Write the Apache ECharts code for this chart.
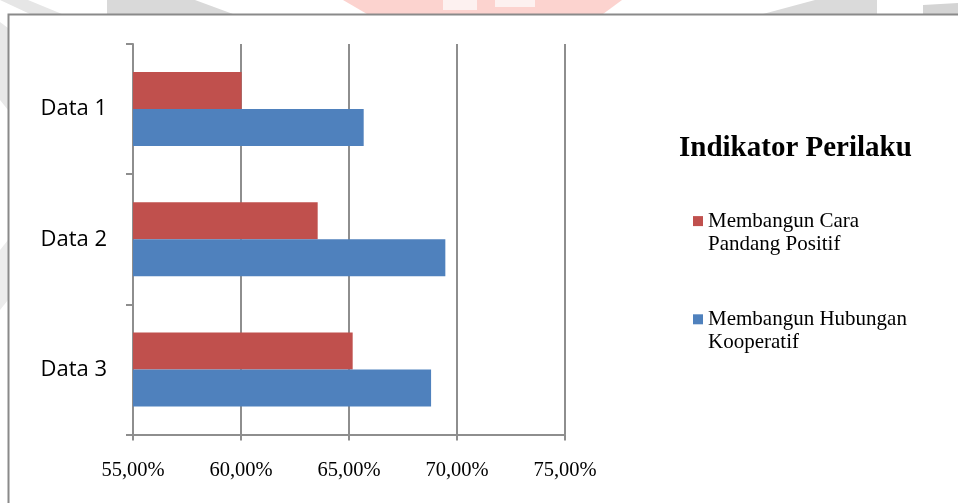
<!DOCTYPE html>
<html>
<head>
<meta charset="utf-8">
<script src="https://cdn.jsdelivr.net/npm/echarts@6/dist/echarts.min.js"></script>
<style>
  html, body { margin: 0; padding: 0; background: #fff; }
  #chart { width: 958px; height: 503px; }
</style>
</head>
<body>
<div id="chart"></div>
<script>
// Categories and series values (fractions of 1, shown as percent)
const categories = ['Data 1', 'Data 2', 'Data 3'];
const seriesNames = ['Membangun Cara Pandang Positif', 'Membangun Hubungan Kooperatif'];
const caraPandang = [0.6003, 0.6355, 0.6517];
const hubungan = [0.6568, 0.6946, 0.6880];
const xTicks = { min: 0.55, max: 0.75, interval: 0.05 };
const chartTitle = 'Indikator Perilaku';

const RED = '#C0504D';
const BLUE = '#4F81BD';
const GRID_GRAY = '#8e8e8e';

function pct(v) {
  return (v * 100).toFixed(2).replace('.', ',') + '%';
}

// Break a legend name after its second word; the leading empty line keeps
// the first text line level with the colour swatch
function wrapName(name) {
  const w = name.split(' ');
  return '\n' + w.slice(0, 2).join(' ') + '\n' + w.slice(2).join(' ');
}

const chart = echarts.init(document.getElementById('chart'), null, { renderer: 'canvas' });

// Faint background marks along the top strip and left edge
const faint = [
  { pts: [[0, 0], [28, 0], [62, 14], [30, 14]], fill: '#e6e6e6' },
  { pts: [[0, 22], [8, 28], [8, 110], [0, 100]], fill: '#e8e8e8' },
  { pts: [[0, 250], [8, 240], [8, 300], [0, 310]], fill: '#ececec' },
  { pts: [[107, 0], [195, 0], [233, 14], [107, 14]], fill: '#d9d9d9' },
  { pts: [[343, 0], [622, 0], [603, 14], [367, 14]], fill: '#fcd3cf' },
  { pts: [[443, 0], [477, 0], [477, 10], [443, 10]], fill: '#fdf1f0' },
  { pts: [[495, 0], [535, 0], [535, 7], [495, 7]], fill: '#fdf1f0' },
  { pts: [[815, 0], [877, 0], [877, 14], [763, 14]], fill: '#dadada' },
  { pts: [[923, 5], [958, 3], [958, 14], [923, 14]], fill: '#d4d4d4' }
];

const graphics = faint.map(f => ({
  type: 'polygon',
  silent: true,
  z: -10,
  shape: { points: f.pts },
  style: { fill: f.fill }
}));

// Chart-area frame
graphics.push({
  type: 'rect',
  silent: true,
  z: -5,
  shape: { x: 8.5, y: 14.5, width: 1000, height: 600 },
  style: { fill: '#fff', stroke: '#8a8a8a', lineWidth: 2 }
});

const option = {
  backgroundColor: '#fff',
  animation: false,
  graphic: graphics,
  title: {
    text: chartTitle,
    left: 674,
    top: 129,
    textStyle: {
      fontFamily: 'Liberation Serif',
      fontWeight: 'bold',
      fontSize: 29,
      color: '#000'
    }
  },
  legend: {
    orient: 'vertical',
    left: 688,
    top: 181,
    itemWidth: 10,
    itemHeight: 10,
    itemGap: 28,
    icon: 'rect',
    data: seriesNames,
    formatter: wrapName,
    textStyle: {
      fontFamily: 'Liberation Serif',
      fontSize: 21,
      color: '#000',
      lineHeight: 23.4
    }
  },
  grid: {
    left: 133,
    right: 393,
    top: 44,
    bottom: 68.5,
    containLabel: false
  },
  xAxis: {
    type: 'value',
    min: xTicks.min,
    max: xTicks.max,
    interval: xTicks.interval,
    axisLine: { show: true, lineStyle: { color: GRID_GRAY, width: 2 } },
    axisTick: { show: true, length: 6, lineStyle: { color: GRID_GRAY, width: 2 } },
    splitLine: { show: true, lineStyle: { color: GRID_GRAY, width: 2 } },
    axisLabel: {
      formatter: pct,
      margin: 26,
      fontFamily: 'Liberation Serif',
      fontSize: 20.5,
      color: '#000'
    }
  },
  yAxis: {
    type: 'category',
    data: categories,
    inverse: true,
    axisLine: { show: true, lineStyle: { color: GRID_GRAY, width: 2 } },
    axisTick: { show: true, length: 7, lineStyle: { color: GRID_GRAY, width: 2 } },
    splitLine: { show: false },
    axisLabel: {
      margin: 26,
      fontFamily: 'Open Sans',
      fontSize: 22,
      color: '#000',
      padding: [4, 0, 0, 0]
    }
  },
  series: [
    {
      name: seriesNames[0],
      type: 'bar',
      data: caraPandang,
      barWidth: 37,
      barGap: '0%',
      itemStyle: { color: RED }
    },
    {
      name: seriesNames[1],
      type: 'bar',
      data: hubungan,
      barWidth: 37,
      barGap: '0%',
      itemStyle: { color: BLUE }
    }
  ]
};

chart.setOption(option);
</script>
</body>
</html>
